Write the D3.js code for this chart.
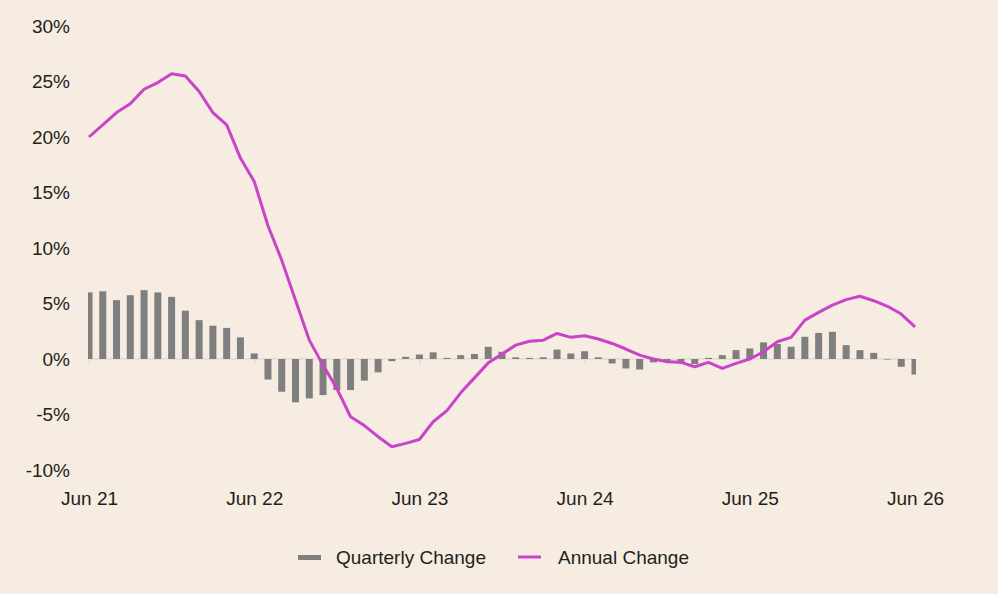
<!DOCTYPE html>
<html>
<head>
<meta charset="utf-8">
<script src="https://cdn.jsdelivr.net/npm/d3@7"></script>
<style>
  body { margin: 0; background: #f6ece1; }
  svg { display: block; font-family: "Liberation Sans", Arial, sans-serif; }
</style>
</head>
<body>
<svg width="998" height="594"></svg>
<script>
// month index 0 = Jun 21 ... 60 = Jun 26
const tickLabels = ["Jun 21", "Jun 22", "Jun 23", "Jun 24", "Jun 25", "Jun 26"];
const yTicks = [-10, -5, 0, 5, 10, 15, 20, 25, 30];

const quarterly = [
  6.0, 6.1, 5.3, 5.75, 6.2, 6.0, 5.6, 4.35, 3.5, 3.0, 2.8, 1.95,
  0.5, -1.85, -2.95, -3.9, -3.55, -3.25, -2.8, -2.8, -1.95, -1.2, -0.2, 0.2,
  0.4, 0.6, 0.1, 0.35, 0.45, 1.1, 0.65, 0.15, 0.1, 0.15, 0.85, 0.5,
  0.7, 0.15, -0.4, -0.85, -0.95, -0.3, -0.2, -0.4, -0.45, 0.1, 0.35, 0.8,
  0.95, 1.5, 1.35, 1.1, 2.0, 2.35, 2.45, 1.25, 0.8, 0.55, -0.05, -0.7,
  -1.4
];

const annual = [
  20.0, 21.1, 22.2, 23.0, 24.3, 24.9, 25.7, 25.5, 24.1, 22.2, 21.1, 18.1,
  16.0, 12.0, 8.9, 5.3, 1.7, -0.55, -2.65, -5.2, -6.0, -7.0, -7.9, -7.6,
  -7.25, -5.65, -4.65, -3.05, -1.7, -0.35, 0.45, 1.25, 1.6, 1.7, 2.3, 1.95,
  2.1, 1.8, 1.4, 0.9, 0.35, 0.0, -0.25, -0.3, -0.7, -0.3, -0.85, -0.4,
  0.0, 0.65, 1.55, 1.95, 3.5, 4.2, 4.85, 5.35, 5.65, 5.25, 4.75, 4.05,
  2.9
];

const svg = d3.select("svg");
const textColor = "#231e1b";

// scales
const x = d3.scaleLinear().domain([0, 60]).range([89, 915]);
const y = d3.scaleLinear().domain([-10, 30]).range([470, 26]);

// clip for bars at plot edges
svg.append("clipPath").attr("id", "plot-clip")
  .append("rect")
    .attr("x", 88).attr("y", 0)
    .attr("width", 828).attr("height", 594);

// y axis labels
const yAxis = svg.append("g")
  .attr("transform", "translate(70,0)")
  .call(d3.axisLeft(y).tickValues(yTicks).tickSize(0).tickPadding(0).tickFormat(d => d + "%"));
yAxis.select(".domain").remove();
yAxis.selectAll("text")
  .attr("font-size", 19)
  .attr("fill", textColor)
  .attr("font-family", "Liberation Sans, Arial, sans-serif");

// zero line
svg.append("line")
  .attr("x1", 88).attr("x2", 913)
  .attr("y1", y(0)).attr("y2", y(0))
  .attr("stroke", "#d9d3cc")
  .attr("stroke-width", 1);

// x axis ticks + labels
const xAxis = svg.append("g")
  .attr("transform", `translate(0,${y(0)})`)
  .call(d3.axisBottom(x)
    .tickValues(d3.range(0, 61, 12))
    .tickSize(5)
    .tickPadding(0)
    .tickFormat((d, i) => tickLabels[i]));
xAxis.select(".domain").remove();
xAxis.selectAll("line").attr("stroke", "#d9d3cc");
xAxis.selectAll("text")
  .attr("y", 505 - y(0))
  .attr("dy", 0)
  .attr("font-size", 19)
  .attr("fill", textColor)
  .attr("font-family", "Liberation Sans, Arial, sans-serif");

// bars
const barW = 7;
svg.append("g")
  .attr("clip-path", "url(#plot-clip)")
  .selectAll("rect")
  .data(quarterly)
  .enter().append("rect")
    .attr("x", (d, i) => x(i) - barW / 2)
    .attr("width", barW)
    .attr("y", d => y(Math.max(0, d)))
    .attr("height", d => Math.abs(y(d) - y(0)))
    .attr("fill", "#7f7f7f");

// annual line
const line = d3.line()
  .x((d, i) => x(i))
  .y(d => y(d));

svg.append("path")
  .datum(annual)
  .attr("d", line)
  .attr("fill", "none")
  .attr("stroke", "#c844c8")
  .attr("stroke-width", 3)
  .attr("stroke-linejoin", "round");

// legend
const legend = svg.append("g").attr("font-size", 19).attr("fill", textColor);
legend.append("rect")
  .attr("x", 298).attr("y", 555)
  .attr("width", 23).attr("height", 5)
  .attr("fill", "#7f7f7f");
legend.append("text")
  .attr("x", 336).attr("y", 557).attr("dy", "0.35em")
  .text("Quarterly Change");
legend.append("line")
  .attr("x1", 518).attr("x2", 541)
  .attr("y1", 557).attr("y2", 557)
  .attr("stroke", "#c844c8").attr("stroke-width", 3);
legend.append("text")
  .attr("x", 558).attr("y", 557).attr("dy", "0.35em")
  .text("Annual Change");
</script>
</body>
</html>
